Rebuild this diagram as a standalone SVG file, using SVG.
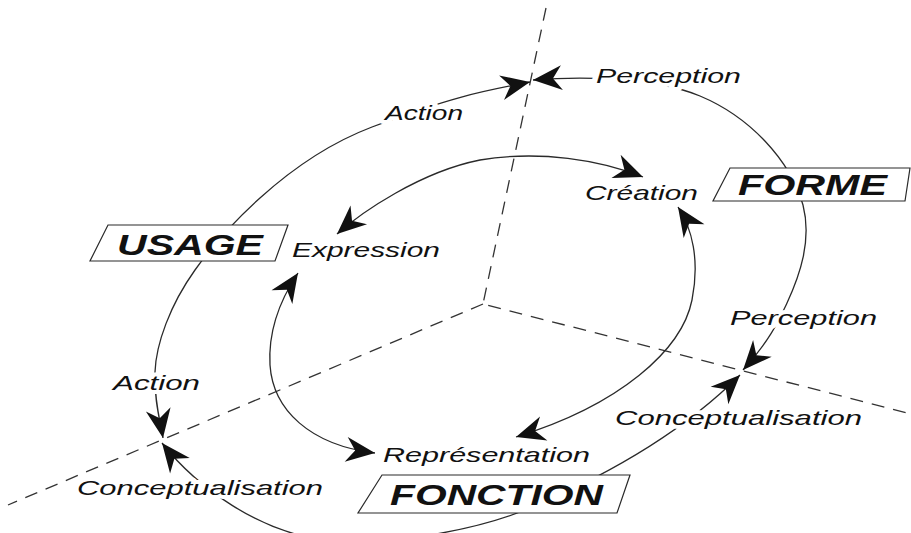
<svg xmlns="http://www.w3.org/2000/svg" width="911" height="533" viewBox="0 0 911 533">
  <style>
    .axis { fill: none; stroke: #333; stroke-width: 1.3; stroke-dasharray: 13 9; }
    .flow { fill: none; stroke: #2a2a2a; stroke-width: 1.3; }
    .both { marker-start: url(#head); marker-end: url(#head); }
    .box { fill: #fff; stroke: #2a2a2a; stroke-width: 1.2; }
    .lbl { font-family: "Liberation Sans", Arial, sans-serif; font-style: italic; font-size: 21px; fill: #111; stroke: #fff; stroke-width: 8; stroke-linejoin: round; paint-order: stroke; }
    .title { font-family: "Liberation Sans", Arial, sans-serif; font-style: italic; font-weight: bold; font-size: 29px; fill: #111; }
  </style>
  <defs>
    <!-- barbed arrowhead, tip at the path end -->
    <marker id="head" markerUnits="userSpaceOnUse" viewBox="-32 -15 34 30" markerWidth="34" markerHeight="30" refX="0" refY="0" orient="auto-start-reverse">
      <path d="M0,0 L-29,-12.5 L-20,0 L-29,12.5 Z" fill="#111"/>
    </marker>
  </defs>

  <rect width="911" height="533" fill="#fff"/>

  <!-- dashed axes meeting at the centre -->
  <g id="axes">
    <path class="axis" d="M546,8 L483,304 L911,414"/>
    <path class="axis" d="M483,304 L8,505"/>
  </g>

  <g id="connectors">
    <!-- outer loop, USAGE side -->
    <path class="flow both" d="M163,438 C160,420 154,400 155,372 S170,305 195,270 S285,160 372,127 S490,90 530,82"/>
    <!-- outer loop, FORME side -->
    <path class="flow both" d="M533,80 C570,77 650,75 700,96 C750,117 790,160 803,205 C812,240 800,275 787,303 C778,322 770,340 743,370"/>
    <!-- outer loop, FONCTION side -->
    <path class="flow both" d="M740,375 C715,400 655,455 530,508 C480,529 400,545 330,540 C260,535 195,485 162,443"/>
    <!-- inner loop -->
    <path class="flow both" d="M337,234 C362,212 420,172 480,160 C540,150 600,160 643,177"/>
    <path class="flow both" d="M298,273 C280,300 268,330 270,365 C273,410 310,445 375,453"/>
    <path class="flow both" d="M678,207 C692,228 700,260 692,300 C682,350 620,405 516,437"/>
  </g>

  <g id="labels">
    <text class="lbl" x="385" y="120" textLength="78" lengthAdjust="spacingAndGlyphs">Action</text>
    <text class="lbl" x="596" y="83" textLength="145" lengthAdjust="spacingAndGlyphs">Perception</text>
    <text class="lbl" x="585" y="200" textLength="113" lengthAdjust="spacingAndGlyphs">Création</text>
    <text class="lbl" x="292" y="257" textLength="148" lengthAdjust="spacingAndGlyphs">Expression</text>
    <text class="lbl" x="730" y="325" textLength="147" lengthAdjust="spacingAndGlyphs">Perception</text>
    <text class="lbl" x="615" y="425" textLength="247" lengthAdjust="spacingAndGlyphs">Conceptualisation</text>
    <text class="lbl" x="383" y="462" textLength="207" lengthAdjust="spacingAndGlyphs">Représentation</text>
    <text class="lbl" x="113" y="390" textLength="87" lengthAdjust="spacingAndGlyphs">Action</text>
    <text class="lbl" x="77" y="495" textLength="246" lengthAdjust="spacingAndGlyphs">Conceptualisation</text>
  </g>

  <g id="usage">
    <path class="box" d="M108,225 L288,225 L275,261 L90,261 Z"/>
    <text class="title" x="117" y="255" textLength="146" lengthAdjust="spacingAndGlyphs">USAGE</text>
  </g>
  <g id="forme">
    <path class="box" d="M730,168 L910,168 L905,201 L713,201 Z"/>
    <text class="title" x="738" y="195" textLength="149" lengthAdjust="spacingAndGlyphs">FORME</text>
  </g>
  <g id="fonction">
    <path class="box" d="M382,475 L630,475 L617,513 L358,513 Z"/>
    <text class="title" x="390" y="505" font-size="30" textLength="213" lengthAdjust="spacingAndGlyphs">FONCTION</text>
  </g>
</svg>
